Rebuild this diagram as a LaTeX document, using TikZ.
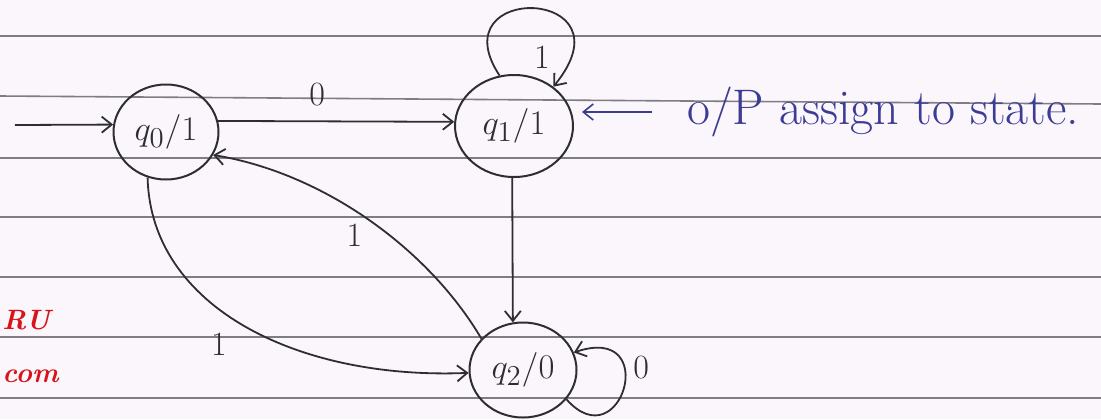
\documentclass[tikz,border=0pt]{standalone}
\usepackage{amsmath,amssymb}
\usetikzlibrary{shapes.geometric,arrows.meta,positioning}

\definecolor{paper}{RGB}{251,246,251}
\definecolor{rulegray}{RGB}{125,125,130}
\definecolor{pen}{RGB}{45,45,50}
\definecolor{ink}{RGB}{60,60,150}
\definecolor{wmred}{RGB}{215,20,25}

\begin{document}
\begin{tikzpicture}[
  x=0.5pt, y=-0.5pt,
  state/.style={ellipse, draw=pen, line width=1pt, text=pen,
    minimum width=52.5pt, minimum height=47.5pt, inner sep=0pt,
    font=\fontsize{19}{22}\selectfont},
  arr/.style={-{Straight Barb[length=5pt,width=8pt]}, draw=pen,
    line width=0.9pt},
  lbl/.style={text=pen, font=\fontsize{17}{20}\selectfont},
  ruling/.style={draw=rulegray, line width=0.8pt},
  wm/.style={text=wmred, anchor=west, inner sep=0.5pt,
    font=\bfseries\itshape\fontsize{14}{16}\selectfont}
]
  \useasboundingbox (0,0) rectangle (1101,419);
  \clip (0,0) rectangle (1101,419);
  \fill[paper] (0,0) rectangle (1101,419);
  % ruled paper
  \foreach \y in {36,158,217,277,337,398}
    \draw[ruling] (0,\y) -- (1101,\y);
  \draw[ruling] (0,96) -- (1101,104);

  \node[state] (q0) at (166,132) {$q_0/1$};
  \node[state, minimum width=59pt, minimum height=51pt] (q1)
    at (514,126) {$q_1/1$};
  \node[state, minimum width=53.5pt] (q2) at (523,370) {$q_2/0$};
  \coordinate (init) at (15,125);

  \node[text=ink, anchor=west, font=\fontsize{25}{29}\selectfont]
    (note) at (680,112) {o/P assign to state.};
  \node[wm] (wm1) at (1,320) {RU};
  \node[wm] (wm2) at (1,376) {com};

  \draw[arr] (init) -- (q0.172);
  \draw[arr] (q0.12) -- node[lbl, above=4pt, pos=0.42] {0} (q1.176);
  \draw[arr] (q1.106) .. controls +(-62,-94) and +(82,-100) ..
    node[lbl, below=15pt, xshift=4pt] {1} (q1.45);
  \draw[arr] (q1.268) -- (q2.102);
  \draw[arr] (q2.-34) .. controls +(55,62) and +(88,-30) ..
    node[lbl, pos=0.65, right=1pt] {0} (q2.19);
  \draw[arr] (q0.-112) .. controls +(3,130) and +(-170,7) ..
    node[lbl, pos=0.42, below=8pt] {1} (q2.183);
  \draw[arr] (q2.143) .. controls +(-53,-90) and +(110,18) ..
    node[lbl, pos=0.55, below=3pt] {1} (q0.-26);
  \draw[arr, draw=ink, line width=0.8pt, shorten <=14pt, shorten >=4pt]
    (note.west) -- (note.west -| q1.east);
\end{tikzpicture}
\end{document}
